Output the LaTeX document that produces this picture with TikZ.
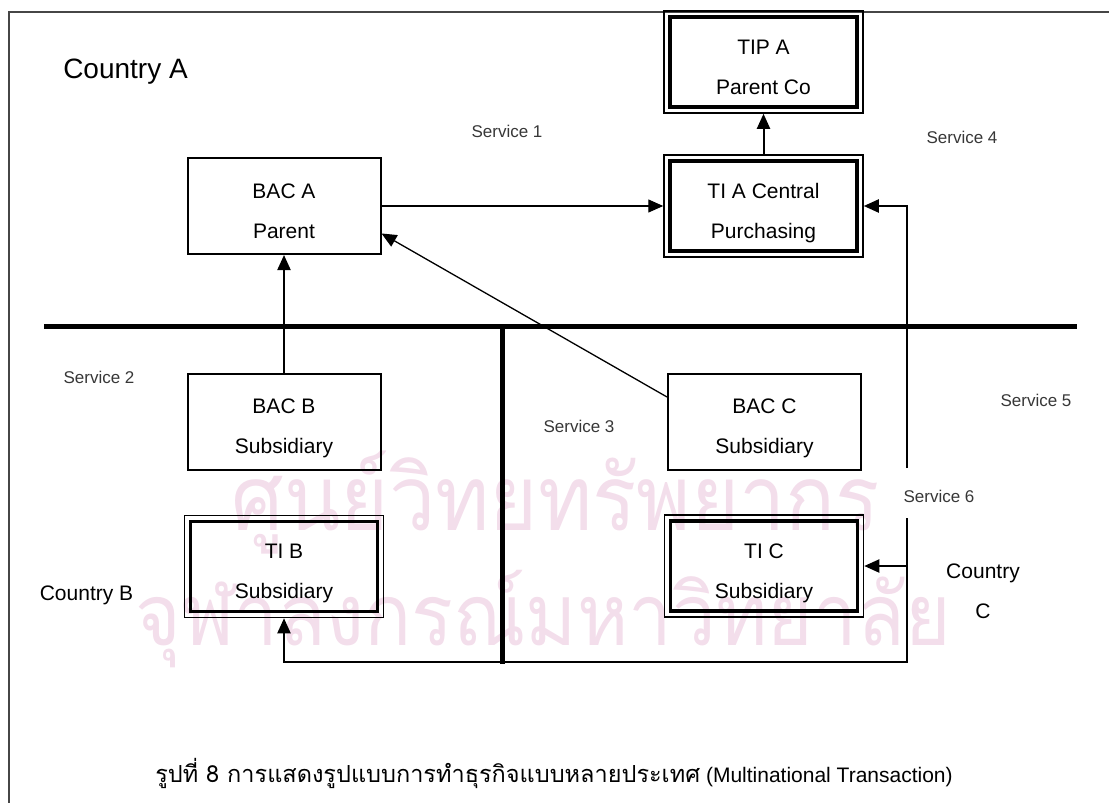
\documentclass[tikz,border=0pt]{standalone}
\usepackage{fontspec}
\setmainfont{Liberation Sans}
\newfontfamily\thaifont[Script=Thai]{Loma}
\usetikzlibrary{arrows.meta,calc}
\definecolor{wmpink}{RGB}{243,222,235}
\definecolor{labelgrey}{RGB}{55,55,55}
\definecolor{framegrey}{RGB}{70,70,70}
\begin{document}
\begin{tikzpicture}[x=1pt,y=-1pt,
  tip/.style={-{Triangle[length=15pt,width=13pt]}},
  conn/.style={line width=2pt},
  thinconn/.style={line width=1.3pt},
  border/.style={line width=5pt},
  boxtext/.style={align=center,inner sep=0pt,text height=64pt,text depth=0pt,
    font=\fontsize{21pt}{40pt}\selectfont},
  bacbox/.style={boxtext,draw,line width=2pt,minimum width=193pt,minimum height=96pt},
  tibox/.style={boxtext,draw,line width=1.5pt,minimum width=199pt,minimum height=102pt,
    path picture={\draw[line width=3.5pt]
      ([shift={(6pt,-6pt)}]path picture bounding box.north west) rectangle
      ([shift={(-6pt,6pt)}]path picture bounding box.south east);}},
  service/.style={text=labelgrey,inner sep=0pt,font=\fontsize{17pt}{20pt}\selectfont},
  country/.style={align=center,inner sep=0pt,font=\fontsize{21pt}{40pt}\selectfont},
  wmtext/.style={text=wmpink,inner sep=0pt,anchor=base}
]
\useasboundingbox (0,0) rectangle (1109,803);

% library watermark lettering behind the chart
\node[wmtext] (wmA) at (556,530)
  {\resizebox{648pt}{!}{\scalebox{1}[1.1]{\thaifont ศูนย์วิทยทรัพยากร}}};
\node[wmtext] (wmB) at (543,645)
  {\resizebox{815pt}{!}{\scalebox{1}[1.1]{\thaifont จุฬาลงกรณ์มหาวิทยาลัย}}};

% page frame (open on the right and bottom)
\coordinate (frBL) at (9,803);
\coordinate (frTL) at (9,12);
\coordinate (frTR) at (1109,12);
\draw[line width=1.4pt,framegrey] (frBL) -- (frTL) -- (frTR);

% country borders
\coordinate (hbL) at (44,326);
\coordinate (hbR) at (1077,326);
\coordinate (vbT) at (502,326);
\coordinate (vbB) at (502,664);
\draw[border] (hbL) -- (hbR);
\draw[border] (vbT) -- (vbB);

% companies
\node[bacbox] (bacA) at (284,206) {BAC A\\Parent};
\node[bacbox] (bacB) at (284,421.5) {BAC B\\Subsidiary};
\node[bacbox] (bacC) at (764.5,421.5) {BAC C\\Subsidiary};
\node[tibox] (tipA) at (763.5,62) {TIP A\\Parent Co};
\node[tibox] (tiA) at (763.5,206) {TI A Central\\Purchasing};
\node[tibox] (tiB) at (284,566.5) {TI B\\Subsidiary};
\node[tibox] (tiC) at (764,566) {TI C\\Subsidiary};

% labels
\node[inner sep=0pt,font=\fontsize{28pt}{30pt}\selectfont] (ctyA) at (125.5,72) {Country A};
\node[country] (ctyB) at (86.5,595) {Country B};
\node[country] (ctyC) at (983,591) {Country\\C};
\node[service] (s1) at (507,131) {Service 1};
\node[service] (s2) at (99,377) {Service 2};
\node[service] (s3) at (579,426) {Service 3};
\node[service] (s4) at (962,137) {Service 4};
\node[service] (s5) at (1036,400) {Service 5};
\node[service] (s6) at (939,496) {Service 6};

% service flows
\draw[thinconn,tip] (bacA.east) -- (tiA.west);
\draw[conn,tip] (tiA.north) -- (tipA.south);
\draw[conn,tip] (bacB.north) -- (bacA.south);
\draw[thinconn,tip] ($(bacC.north west)!0.25!(bacC.south west)$)
  -- ($(bacA.north east)!0.78!(bacA.south east)$);

\coordinate (rTop) at (907,468);
\coordinate (rBot) at (907,518);
\coordinate (rCorner) at (907,662);
\draw[conn,tip] (rTop) |- (tiA.east);
\draw[conn,tip] (rBot) -- (rCorner) -| (tiB.south);
\draw[conn,tip] (rBot |- tiC.east) -- (tiC.east);

% caption
\node[inner sep=0pt,font=\fontsize{21pt}{24pt}\selectfont] (caption) at (554,773)
  {{\thaifont\fontsize{23.5pt}{26pt}\selectfont รูปที่ 8 การแสดงรูปแบบการทำธุรกิจแบบหลายประเทศ} (Multinational Transaction)};
\end{tikzpicture}
\end{document}
